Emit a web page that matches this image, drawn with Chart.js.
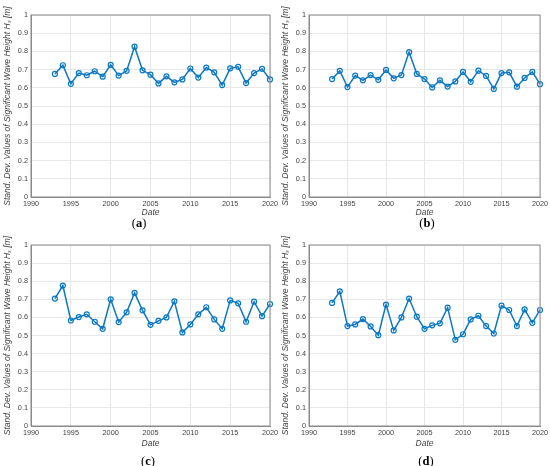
<!DOCTYPE html>
<html>
<head>
<meta charset="utf-8">
<script src="https://cdn.jsdelivr.net/npm/chart.js@4.4.1/dist/chart.umd.min.js"></script>
<style>
  body { margin: 0; background: #fff; }
  #wrap { position: relative; width: 550px; height: 466px; overflow: hidden; }
  .panel { position: absolute; width: 285px; height: 233px; }
  .tag { position: absolute; font-family: "Liberation Serif", serif; font-size: 12.5px; color: #000;
         transform: translate(-50%, -50%); white-space: nowrap; }
</style>
</head>
<body>
<div id="wrap"></div>
<script>
// data
const years = [1993, 1994, 1995, 1996, 1997, 1998, 1999, 2000, 2001, 2002, 2003, 2004, 2005, 2006,
               2007, 2008, 2009, 2010, 2011, 2012, 2013, 2014, 2015, 2016, 2017, 2018, 2019, 2020];
const seriesA = [0.676, 0.724, 0.622, 0.681, 0.669, 0.691, 0.661, 0.726, 0.667, 0.693, 0.826, 0.696, 0.672, 0.624,
                 0.663, 0.630, 0.646, 0.706, 0.656, 0.711, 0.685, 0.615, 0.707, 0.715, 0.626, 0.681, 0.704, 0.646];
const seriesB = [0.648, 0.693, 0.604, 0.667, 0.641, 0.670, 0.644, 0.698, 0.652, 0.670, 0.796, 0.676, 0.648, 0.602,
                 0.641, 0.607, 0.635, 0.687, 0.633, 0.694, 0.665, 0.594, 0.681, 0.685, 0.606, 0.654, 0.687, 0.620];
const seriesC = [0.704, 0.776, 0.583, 0.602, 0.617, 0.576, 0.537, 0.700, 0.574, 0.628, 0.735, 0.639, 0.559, 0.581,
                 0.600, 0.689, 0.517, 0.561, 0.617, 0.656, 0.589, 0.537, 0.694, 0.678, 0.576, 0.687, 0.607, 0.674];
const seriesD = [0.680, 0.744, 0.552, 0.561, 0.591, 0.550, 0.502, 0.671, 0.528, 0.600, 0.704, 0.604, 0.537, 0.556,
                 0.567, 0.654, 0.476, 0.507, 0.589, 0.609, 0.552, 0.511, 0.665, 0.641, 0.552, 0.644, 0.570, 0.641];
const xTicks = [1990, 1995, 2000, 2005, 2010, 2015, 2020];
const yTicks = [0, 0.1, 0.2, 0.3, 0.4, 0.5, 0.6, 0.7, 0.8, 0.9, 1];
const panelTags = ['a', 'b', 'c', 'd'];
const yTitle = 'Stand. Dev. Values of Significant Wave Height H\u209B [m]';
const xTitle = 'Date';

// layout of each panel (container offset, plot box inside container, label spots)
const panels = [
  { series: seriesA, left: 0,   top: 0,   box: { l: 31, t: 15, r: 270, b: 197 }, titleX: 7.5, dateOff: 15.5, tag: [139, 223] },
  { series: seriesB, left: 275, top: 0,   box: { l: 34, t: 15, r: 265, b: 197 }, titleX: 11,  dateOff: 15.5, tag: [152, 223] },
  { series: seriesC, left: 0,   top: 233, box: { l: 31, t: 12, r: 270, b: 193 }, titleX: 7.5, dateOff: 17.5, tag: [148, 228] },
  { series: seriesD, left: 275, top: 233, box: { l: 34, t: 12, r: 265, b: 193 }, titleX: 11,  dateOff: 17.5, tag: [151, 228] }
];

const W = 285, H = 233, XH = 26;
const blue = '#0a78c4';
const axisGray = '#8a8a8a';
const textGray = '#444444';
const tickFont = { family: 'Liberation Sans', size: 7.3 };
const titleFont = { family: 'Liberation Sans', size: 8.5, style: 'italic' };

const boxPlugin = {
  id: 'box',
  afterDraw(chart) {
    const { ctx, chartArea: a } = chart;
    ctx.save();
    ctx.strokeStyle = axisGray;
    ctx.lineWidth = 1;
    ctx.strokeRect(a.left, a.top, a.right - a.left, a.bottom - a.top);
    ctx.restore();
  }
};

const wrap = document.getElementById('wrap');

panels.forEach((p, i) => {
  const div = document.createElement('div');
  div.className = 'panel';
  div.style.left = p.left + 'px';
  div.style.top = p.top + 'px';
  const canvas = document.createElement('canvas');
  canvas.width = W;
  canvas.height = H;
  div.appendChild(canvas);
  wrap.appendChild(div);

  const tag = document.createElement('div');
  tag.className = 'tag';
  tag.style.left = (p.left + p.tag[0]) + 'px';
  tag.style.top = (p.top + p.tag[1]) + 'px';
  tag.innerHTML = '(<b>' + panelTags[i] + '</b>)';
  wrap.appendChild(tag);

  const lh = titleFont.size * 1.2;

  new Chart(canvas, {
    type: 'line',
    data: {
      datasets: [{
        data: years.map((y, k) => ({ x: y, y: p.series[k] })),
        borderColor: blue,
        borderWidth: 1.5,
        pointRadius: 2.5,
        pointBorderWidth: 1.2,
        pointBorderColor: blue,
        pointBackgroundColor: 'rgba(0,0,0,0)',
        tension: 0,
        clip: false
      }]
    },
    options: {
      responsive: false,
      animation: false,
      layout: {
        padding: { left: 0, top: p.box.t, right: W - p.box.r, bottom: H - p.box.b - XH }
      },
      plugins: { legend: { display: false }, tooltip: { enabled: false } },
      scales: {
        x: {
          type: 'linear',
          min: 1990,
          max: 2020,
          afterBuildTicks: s => { s.ticks = xTicks.map(v => ({ value: v })); },
          afterFit: s => { s.height = XH; s.paddingLeft = 0; s.paddingRight = 0; },
          grid: { color: '#e8e8e8', drawTicks: false },
          border: { color: axisGray },
          ticks: { font: tickFont, color: textGray, padding: 3, maxRotation: 0,
                   callback: v => String(v) },
          title: { display: true, text: xTitle, font: titleFont, color: textGray,
                   padding: { top: 0, bottom: XH - lh / 2 - p.dateOff } }
        },
        y: {
          min: 0,
          max: 1,
          afterBuildTicks: s => { s.ticks = yTicks.map(v => ({ value: v })); },
          afterFit: s => { s.width = p.box.l; s.paddingTop = 0; s.paddingBottom = 0; },
          grid: { color: '#e8e8e8', drawTicks: false },
          border: { color: axisGray },
          ticks: { font: tickFont, color: textGray, padding: 3,
                   callback: v => String(Math.round(v * 10) / 10) },
          title: { display: true, text: yTitle, font: titleFont, color: textGray,
                   padding: { top: p.titleX - lh / 2, bottom: 0 } }
        }
      }
    },
    plugins: [boxPlugin]
  });
});
</script>
</body>
</html>
